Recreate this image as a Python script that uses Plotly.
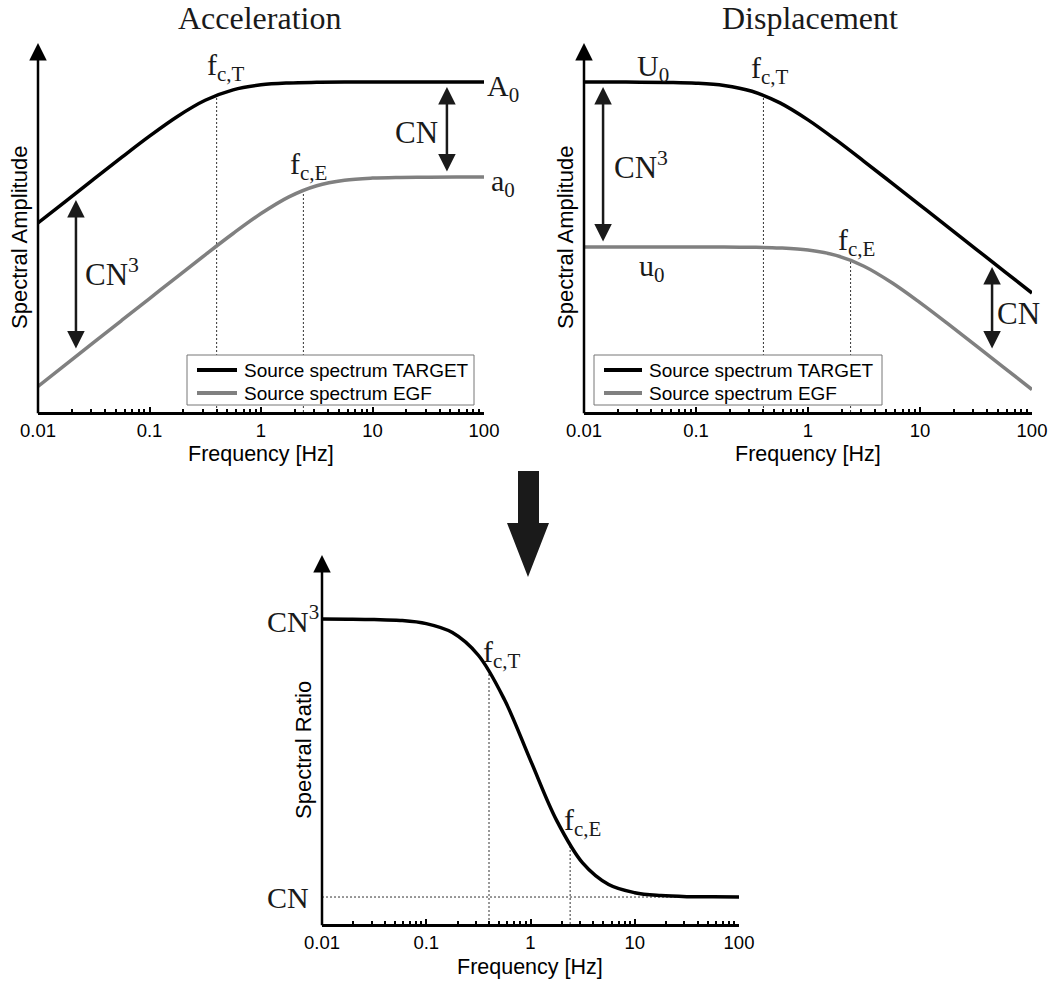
import math
import plotly.graph_objects as go

W, H = 1052, 983

# Frequencies at which the spectra are tabulated (Hz)
freq_hz = [0.01, 0.0178, 0.0316, 0.0562, 0.1, 0.178, 0.316, 0.562, 1.0,
           1.78, 3.16, 5.62, 10.0, 17.8, 31.6, 56.2, 100.0]

# log10 spectral amplitude, acceleration (relative to A0)
acc_target = [-3.204, -2.705, -2.207, -1.713, -1.230, -0.782, -0.415, -0.178, -0.064,
              -0.021, -0.007, -0.002, -0.001, 0.0, 0.0, 0.0, 0.0]
acc_egf = [-6.920, -6.420, -5.920, -5.420, -4.921, -4.422, -3.927, -3.443, -2.990,
           -2.610, -2.357, -2.233, -2.184, -2.168, -2.163, -2.161, -2.160]

# log10 spectral amplitude, displacement (relative to U0)
disp_target = [0.0, -0.001, -0.003, -0.009, -0.026, -0.078, -0.211, -0.474, -0.860,
               -1.317, -1.803, -2.298, -2.797, -3.296, -3.796, -4.296, -4.796]
disp_egf = [-3.750, -3.750, -3.750, -3.750, -3.751, -3.752, -3.757, -3.773, -3.820,
            -3.940, -4.187, -4.563, -5.014, -5.498, -5.993, -6.491, -6.990]

# log10 spectral ratio TARGET / EGF
ratio = [2.334, 2.333, 2.331, 2.326, 2.308, 2.258, 2.131, 1.883, 1.543,
         1.207, 0.969, 0.848, 0.802, 0.786, 0.780, 0.779, 0.778]

# corner frequencies (Hz) and curve levels there
fc_target = 0.4
fc_egf = 2.4
acc_at_fc = [-0.301, -2.461]
disp_at_fc = [-0.301, -4.051]
ratio_at_fc = [2.045, 1.067]
cn_level = 0.778     # log10 CN
cn3_level = 2.334    # log10 CN^3
ratio_levels = [cn3_level, cn_level]
ratio_level_text = ["CN<sup>3</sup>", "CN"]

series_names = ["Source spectrum TARGET", "Source spectrum EGF"]
tick_vals = [0.01, 0.1, 1, 10, 100]
tick_text = ["0.01", "0.1", "1", "10", "100"]
minor_vals = [m * 10.0 ** e for e in (-2, -1, 0, 1) for m in range(2, 10)]

SERIF = "Liberation Serif, Times New Roman, serif"
SANS = "Liberation Sans, Arial, sans-serif"
INK = "#1a1a1a"
GREY = "#808080"
COLORS = ["black", GREY]


def px(x):
    return x / W


def py(y):
    return 1 - y / H


fig = go.Figure()

dot = dict(color="#333333", width=1, dash="2px,2px")


def guide(xs, ys, xa, ya):
    fig.add_trace(go.Scatter(x=xs, y=ys, mode="lines", line=dot, showlegend=False,
                             xaxis=xa, yaxis=ya, hoverinfo="skip"))


def curve(ys, color, name, xa, ya):
    fig.add_trace(go.Scatter(x=freq_hz, y=ys, mode="lines", name=name, showlegend=False,
                             line=dict(color=color, width=3.5, shape="spline"),
                             xaxis=xa, yaxis=ya))


# ---- Acceleration panel ----
y_lo = -7.5
guide([fc_target, fc_target], [y_lo, acc_at_fc[0]], "x", "y")
guide([fc_egf, fc_egf], [y_lo, acc_at_fc[1]], "x", "y")
curve(acc_target, COLORS[0], series_names[0], "x", "y")
curve(acc_egf, COLORS[1], series_names[1], "x", "y")

# ---- Displacement panel ----
guide([fc_target, fc_target], [y_lo, disp_at_fc[0]], "x2", "y2")
guide([fc_egf, fc_egf], [y_lo, disp_at_fc[1]], "x2", "y2")
curve(disp_target, COLORS[0], series_names[0], "x2", "y2")
curve(disp_egf, COLORS[1], series_names[1], "x2", "y2")

# ---- Spectral ratio panel ----
r_lo, r_hi = 0.627, 2.692
guide([0.01, 100], [cn_level, cn_level], "x3", "y3")
guide([fc_target, fc_target], [r_lo, ratio_at_fc[0]], "x3", "y3")
guide([fc_egf, fc_egf], [r_lo, ratio_at_fc[1]], "x3", "y3")
curve(ratio, "black", "Spectral ratio", "x3", "y3")

xa_common = dict(type="log", range=[-2, 2], showline=True, linewidth=2.5, linecolor="black",
                 ticks="inside", ticklen=5, tickwidth=1.5, tickcolor="black",
                 tickmode="array", tickvals=tick_vals, ticktext=tick_text,
                 minor=dict(ticks="inside", ticklen=3, tickwidth=1.5, tickcolor="black",
                            tickmode="array", tickvals=minor_vals, showgrid=False),
                 showgrid=False, zeroline=False, automargin=False,
                 tickfont=dict(family=SANS, size=18.5, color="black"))
ya_hidden = dict(visible=False, showgrid=False, zeroline=False, automargin=False)

fig.update_layout(
    width=W, height=H, margin=dict(l=0, r=0, t=0, b=0, pad=0, autoexpand=False),
    paper_bgcolor="white", plot_bgcolor="rgba(0,0,0,0)", showlegend=False,
    xaxis=dict(domain=[px(38), px(484)], anchor="y", **xa_common),
    yaxis=dict(domain=[py(412), py(40)], range=[y_lo, 0.9545], anchor="x", **ya_hidden),
    xaxis2=dict(domain=[px(584), px(1032)], anchor="y2", **xa_common),
    yaxis2=dict(domain=[py(412), py(40)], range=[y_lo, 0.9545], anchor="x2", **ya_hidden),
    xaxis3=dict(domain=[px(322), px(739)], anchor="y3", **xa_common),
    yaxis3=dict(domain=[py(924), py(555)], range=[r_lo, r_hi], anchor="x3", **ya_hidden),
)

ann = []


def arrow(xref, yref, f, y_tip, y_tail, both=True):
    a = dict(xref=xref, yref=yref, axref=xref, ayref=yref,
             x=math.log10(f), y=y_tip, ax=math.log10(f), ay=y_tail,
             text="", showarrow=True, arrowhead=2, arrowsize=1.4, arrowwidth=2.5,
             arrowcolor=INK)
    if both:
        a.update(arrowside="end+start", startarrowhead=2, startarrowsize=1.4)
    return a


# vertical axes drawn as arrows
ann.append(arrow("x", "y", 0.01, 0.886, -7.56, both=False) | dict(arrowcolor="black"))
ann.append(arrow("x2", "y2", 0.01, 0.886, -7.56, both=False) | dict(arrowcolor="black"))
ann.append(arrow("x3", "y3", 0.01, 2.692, 0.612, both=False) | dict(arrowcolor="black"))

# CN / CN^3 double arrows
ann.append(arrow("x", "y", 46.5, -0.114, -2.068))
ann.append(arrow("x", "y", 0.0219, -2.682, -6.091))
ann.append(arrow("x2", "y2", 0.0148, -0.114, -3.659))
ann.append(arrow("x2", "y2", 44.0, -4.205, -6.09))


def label(text, x, y, size=30, family=SERIF, angle=0, color=INK, anchor="center"):
    return dict(xref="paper", yref="paper", x=px(x), y=py(y), text=text, showarrow=False,
                xanchor=anchor, yanchor="middle", textangle=angle,
                font=dict(family=family, size=size, color=color))


# level labels on the spectral-ratio axis
for lvl, txt in zip(ratio_levels, ratio_level_text):
    ann.append(dict(xref="paper", yref="y3", x=px(265), y=lvl, text=txt, showarrow=False,
                    xanchor="left", yanchor="middle",
                    font=dict(family=SERIF, size=30, color=INK)))

ann += [
    label("Acceleration", 259, 18, size=32),
    label("Displacement", 810, 18, size=32),
    label("f<sub>c,T</sub>", 226, 67),
    label("A<sub>0</sub>", 503, 88),
    label("CN", 416, 133, size=31),
    label("f<sub>c,E</sub>", 308, 166),
    label("a<sub>0</sub>", 503, 183),
    label("CN<sup>3</sup>", 112, 273, size=31),
    label("U<sub>0</sub>", 653, 68),
    label("f<sub>c,T</sub>", 770, 70),
    label("CN<sup>3</sup>", 641, 165, size=31),
    label("u<sub>0</sub>", 652, 268),
    label("f<sub>c,E</sub>", 856, 242),
    label("CN", 1018, 314, size=31),
    label("f<sub>c,T</sub>", 502, 654),
    label("f<sub>c,E</sub>", 582, 822),
    label("Frequency [Hz]", 261, 454, size=21.5, family=SANS, color="black"),
    label("Frequency [Hz]", 808, 454, size=21.5, family=SANS, color="black"),
    label("Frequency [Hz]", 530, 967, size=21.5, family=SANS, color="black"),
    label("Spectral Amplitude", 20, 238, size=22, family=SANS, angle=-90, color="black"),
    label("Spectral Amplitude", 566, 238, size=22, family=SANS, angle=-90, color="black"),
    label("Spectral Ratio", 303, 750, size=22, family=SANS, angle=-90, color="black"),
]

# legend boxes for the two spectra panels
for left, right, sample_x0, sample_x1, text_x in [(187, 474, 197, 237, 242),
                                                  (594, 882, 604, 642, 647)]:
    fig.add_shape(type="rect", xref="paper", yref="paper",
                  x0=px(left), x1=px(right), y0=py(405), y1=py(355),
                  fillcolor="white", line=dict(color="#777777", width=1))
    for row_y, name, color in zip([370, 393], series_names, COLORS):
        fig.add_shape(type="line", xref="paper", yref="paper",
                      x0=px(sample_x0), x1=px(sample_x1), y0=py(row_y), y1=py(row_y),
                      line=dict(color=color, width=4))
        ann.append(label(name, text_x, row_y, size=19, family=SANS, color="black",
                         anchor="left"))

fig.update_layout(annotations=ann)

# big downward arrow between the rows
pts = [(518, 471), (539, 471), (539, 523), (549, 523), (528, 577), (507, 523), (518, 523)]
path = "M " + " L ".join(f"{px(a):.5f},{py(b):.5f}" for a, b in pts) + " Z"
fig.add_shape(type="path", path=path, xref="paper", yref="paper",
              fillcolor=INK, line=dict(width=0))

fig.write_html("out.html")
